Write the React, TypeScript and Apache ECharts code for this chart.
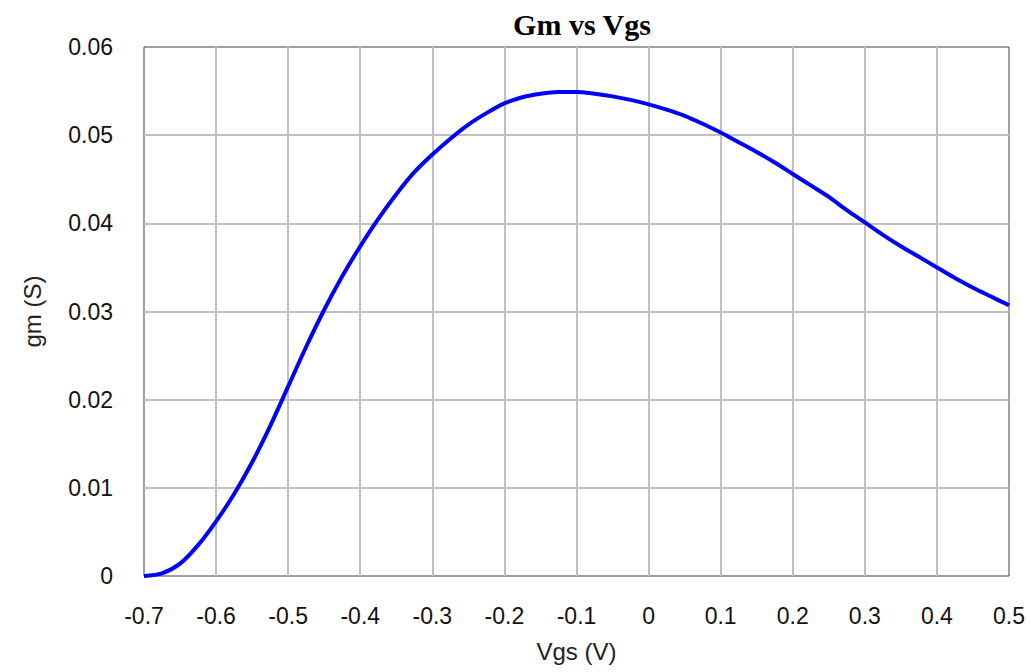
import React, { useEffect, useRef } from "react";
import * as echarts from "echarts";

const vgs = [
  -0.7, -0.675, -0.65, -0.625, -0.6, -0.575, -0.55, -0.525, -0.5, -0.475, -0.45, -0.425, -0.4,
  -0.375, -0.35, -0.325, -0.3, -0.275, -0.25, -0.225, -0.2, -0.175, -0.15, -0.125, -0.1,
  -0.075, -0.05, -0.025, 0, 0.025, 0.05, 0.075, 0.1, 0.125, 0.15, 0.175, 0.2, 0.225, 0.25,
  0.275, 0.3, 0.325, 0.35, 0.375, 0.4, 0.425, 0.45, 0.475, 0.5,
];
const gm = [
  0, 0.0003, 0.0014, 0.0035, 0.0062, 0.0093, 0.0129, 0.017, 0.0215, 0.026, 0.0302, 0.034, 0.0374,
  0.0405, 0.0433, 0.0458, 0.0478, 0.0496, 0.0512, 0.0525, 0.0536, 0.0543, 0.0547, 0.0549, 0.0549,
  0.0547, 0.0544, 0.054, 0.0535, 0.0529, 0.0522, 0.0513, 0.0503, 0.0492, 0.0481, 0.0469, 0.0456,
  0.0443, 0.043, 0.0415, 0.0401, 0.0387, 0.0374, 0.0362, 0.035, 0.0338, 0.0327, 0.0317, 0.0307,
];

const title = "Gm vs Vgs";
const xName = "Vgs (V)";
const yName = "gm (S)";

export default function App() {
  const ref = useRef<HTMLDivElement>(null);
  useEffect(() => {
    if (!ref.current) return;
    const chart = echarts.init(ref.current, undefined, { renderer: "svg" });
    const font = "Liberation Sans, Arial, sans-serif";
    chart.setOption({
      animation: false,
      backgroundColor: "#ffffff",
      title: {
        text: title,
        left: 577,
        top: 4,
        textAlign: "center",
        textStyle: { fontFamily: "Liberation Serif, Times New Roman, serif", fontWeight: "bold", fontSize: 30, color: "#000" },
      },
      grid: { left: 144, right: 21, top: 47, bottom: 96, show: true, borderColor: "#404040", borderWidth: 1, backgroundColor: "transparent" },
      xAxis: {
        type: "value",
        min: -0.7,
        max: 0.5,
        interval: 0.1,
        name: xName,
        nameLocation: "middle",
        nameGap: 63,
        nameTextStyle: { fontFamily: font, fontSize: 24, color: "#222" },
        axisLine: { show: false },
        axisTick: { show: false },
        axisLabel: {
          margin: 28,
          fontFamily: font,
          fontSize: 23,
          color: "#111",
          formatter: (v: number) => {
            const r = Math.round(v * 10) / 10;
            return r === 0 ? "0" : String(r);
          },
        },
        splitLine: { show: true, showMinLine: false, showMaxLine: false, lineStyle: { color: "#c0c0c0", width: 2 } },
      },
      yAxis: {
        type: "value",
        min: 0,
        max: 0.06,
        interval: 0.01,
        name: yName,
        nameLocation: "middle",
        nameGap: 100,
        nameTextStyle: { fontFamily: font, fontSize: 24, color: "#222" },
        axisLine: { show: false },
        axisTick: { show: false },
        axisLabel: {
          margin: 31,
          fontFamily: font,
          fontSize: 23,
          color: "#111",
          formatter: (v: number) => {
            const r = Math.round(v * 100) / 100;
            return r === 0 ? "0" : r.toFixed(2);
          },
        },
        splitLine: { show: true, showMinLine: false, showMaxLine: false, lineStyle: { color: "#c0c0c0", width: 2 } },
      },
      series: [
        {
          type: "line",
          data: vgs.map((x, i) => [x, gm[i]]),
          smooth: 0.3,
          showSymbol: false,
          lineStyle: { color: "#0000ff", width: 4 },
          itemStyle: { color: "#0000ff" },
          z: 5,
        },
      ],
    });
    return () => chart.dispose();
  }, []);
  return (
    <div
      ref={ref}
      style={{ position: "fixed", left: 0, top: 0, width: 1030, height: 672, background: "#fff" }}
    />
  );
}
